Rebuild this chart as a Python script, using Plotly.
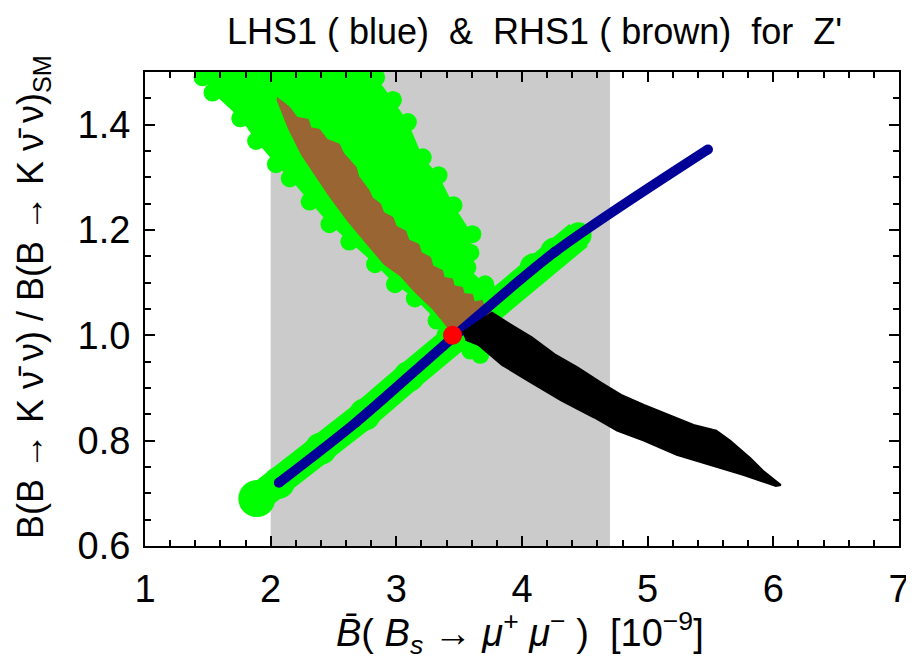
import plotly.graph_objects as go

# ---- data ----
gray_band_x = [2.0, 4.7]

green_upper_x = [1.38, 1.458, 1.537, 1.758, 1.884, 2.042, 2.152, 2.310, 2.468, 2.626, 2.831, 2.989,
                 3.147, 3.320, 3.391, 3.589, 3.668, 3.707, 3.565, 3.589, 3.605, 3.455, 3.336, 3.210,
                 3.092, 2.973, 2.839, 2.92]
green_upper_y = [1.53, 1.490, 1.461, 1.412, 1.369, 1.325, 1.298, 1.254, 1.211, 1.178, 1.135, 1.097,
                 1.070, 1.028, 1.001, 0.971, 0.963, 1.097, 1.129, 1.157, 1.192, 1.247, 1.304, 1.338,
                 1.405, 1.447, 1.490, 1.53]

green_lower_x = [1.89, 2.065, 2.40, 2.75, 3.10, 3.447, 3.80, 4.10, 4.26, 4.45]
green_lower_y = [0.69, 0.72, 0.785, 0.850, 0.922, 0.995, 1.066, 1.128, 1.158, 1.19]

brown_x = [2.050, 2.152, 2.21, 2.30, 2.32, 2.389, 2.45, 2.547, 2.58, 2.681, 2.70, 2.784, 2.81,
           2.873, 2.90, 2.973, 3.00, 3.075, 3.10, 3.178, 3.20, 3.273, 3.29, 3.368, 3.38, 3.447,
           3.46, 3.526, 3.54, 3.605, 3.62, 3.684, 3.70, 3.762,
           3.447,
           3.391, 3.289, 3.155, 3.03, 2.90, 2.823, 2.72, 2.618, 2.460, 2.350, 2.247, 2.144, 2.050]
brown_y = [1.452, 1.433, 1.414, 1.410, 1.394, 1.391, 1.372, 1.363, 1.346, 1.319, 1.302, 1.275, 1.261,
           1.250, 1.233, 1.224, 1.207, 1.198, 1.181, 1.173, 1.157, 1.148, 1.132, 1.123, 1.110, 1.107,
           1.094, 1.091, 1.079, 1.078, 1.064, 1.066, 1.052, 1.043,
           1.001,
           1.020, 1.050, 1.080, 1.113, 1.135, 1.157, 1.186, 1.215, 1.266, 1.304, 1.342, 1.391, 1.447]

blue_x = [2.065, 2.681, 3.447, 4.26, 5.48]
blue_y = [0.72, 0.835, 0.995, 1.158, 1.353]

black_x = [3.526, 3.762, 3.920, 4.078, 4.260, 4.441, 4.631, 4.789, 4.970, 5.183, 5.365, 5.546,
           5.657, 5.815, 5.917, 6.059, 6.020, 5.759, 5.499, 5.231, 4.970, 4.757, 4.575, 4.315,
           4.047, 3.841, 3.652, 3.549]
black_y = [1.005, 1.043, 1.019, 0.996, 0.964, 0.939, 0.910, 0.887, 0.868, 0.847, 0.830, 0.819,
           0.800, 0.767, 0.743, 0.716, 0.714, 0.735, 0.754, 0.773, 0.800, 0.819, 0.844, 0.876,
           0.914, 0.944, 0.982, 0.992]

sm_x = [3.447]
sm_y = [1.0]

x_ticks = [1, 2, 3, 4, 5, 6, 7]
y_ticks = [0.6, 0.8, 1.0, 1.2, 1.4]

GREEN = "#00ff00"
GRAY = "#cbcbcb"
FONT = "Liberation Sans, Arial, sans-serif"

fig = go.Figure()

fig.add_vrect(x0=gray_band_x[0], x1=gray_band_x[1], fillcolor=GRAY, line_width=0,
              layer="below")

fig.add_trace(go.Scatter(x=green_upper_x, y=green_upper_y, mode="markers", fill="toself",
                         fillcolor=GREEN,
                         marker=dict(color=GREEN, size=18, opacity=1, line=dict(width=0)),
                         hoverinfo="skip", showlegend=False))
fig.add_trace(go.Scatter(x=green_lower_x, y=green_lower_y, mode="lines+markers",
                         line=dict(color=GREEN, width=29),
                         marker=dict(color=GREEN, size=[37, 32, 32, 32, 31, 31, 30, 30, 29, 26],
                                     opacity=1, line=dict(width=0)),
                         hoverinfo="skip", showlegend=False))
fig.add_trace(go.Scatter(x=brown_x, y=brown_y, mode="lines", fill="toself",
                         fillcolor="#996633", line=dict(color="#996633", width=1),
                         hoverinfo="skip", showlegend=False))
fig.add_trace(go.Scatter(x=blue_x, y=blue_y, mode="lines+markers",
                         line=dict(color="#000099", width=10, shape="spline", smoothing=0.8),
                         marker=dict(color="#000099", size=10, opacity=1, line=dict(width=0)),
                         hoverinfo="skip", showlegend=False))
fig.add_trace(go.Scatter(x=black_x, y=black_y, mode="lines", fill="toself",
                         fillcolor="black", line=dict(color="black", width=2),
                         hoverinfo="skip", showlegend=False))
fig.add_trace(go.Scatter(x=sm_x, y=sm_y, mode="markers",
                         marker=dict(color="#ff0000", size=19, opacity=1, line=dict(width=0)),
                         hoverinfo="skip", showlegend=False))

axis_common = dict(showline=True, linecolor="black", linewidth=2, mirror="ticks",
                   ticks="inside", ticklen=10, tickwidth=2, tickcolor="black",
                   showgrid=False, zeroline=False,
                   tickfont=dict(family=FONT, size=38, color="black"))

fig.update_xaxes(range=[1, 7], tickvals=x_ticks, ticktext=[str(v) for v in x_ticks],
                 minor=dict(dtick=0.2, tick0=1, ticks="inside", ticklen=6, tickwidth=1.5,
                            tickcolor="black", showgrid=False),
                 ticklabelstandoff=8, **axis_common)
fig.update_yaxes(range=[0.6, 1.5], tickvals=y_ticks, ticktext=[f"{v:.1f}" for v in y_ticks],
                 minor=dict(dtick=0.05, tick0=0.6, ticks="inside", ticklen=6, tickwidth=1.5,
                            tickcolor="black", showgrid=False),
                 ticklabelstandoff=5, **axis_common)

fig.add_annotation(text="LHS1 ( blue)  &  RHS1 ( brown)  for  Z'", xref="paper", yref="paper",
                   x=(530 - 137) / 760, y=1, yshift=41, showarrow=False,
                   xanchor="center", yanchor="middle",
                   font=dict(family=FONT, size=36, color="black"))
fig.add_annotation(text="<i>B̄</i>( <i>B<sub>s</sub></i> → <i>μ</i><sup>+</sup> <i>μ</i><sup>−</sup> )  [10<sup>−9</sup>]",
                   xref="paper", yref="paper", x=0.497, y=0, yshift=-87, showarrow=False,
                   xanchor="center", yanchor="middle",
                   font=dict(family=FONT, size=38, color="black"))
fig.add_annotation(text="B(B → K ν̄ ν) / B(B → K ν̄ ν)<sub>SM</sub>",
                   xref="paper", yref="paper", x=0, y=0.5, xshift=-112, yshift=12, showarrow=False,
                   textangle=-90, xanchor="center", yanchor="middle",
                   font=dict(family=FONT, size=36, color="black"))

fig.update_layout(width=914, height=663, margin=dict(l=137, r=17, t=64, b=125),
                  plot_bgcolor="white", paper_bgcolor="white")

fig.write_html("out.html")
